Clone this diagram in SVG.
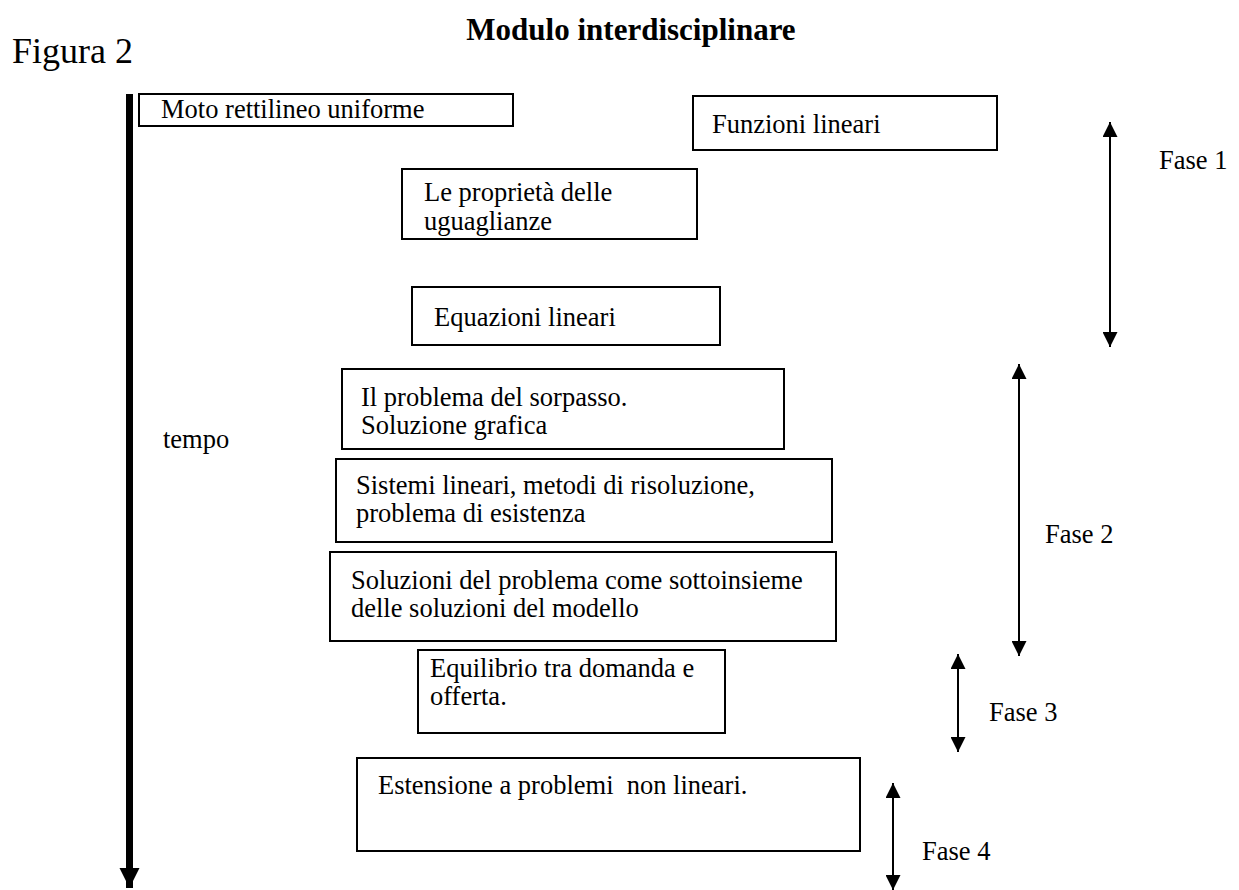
<svg xmlns="http://www.w3.org/2000/svg" width="1239" height="890" viewBox="0 0 1239 890">
<defs>
<style>
.box{fill:#fff;stroke:#000;stroke-width:2}
.t{font-family:"Liberation Serif","Times New Roman",serif;font-size:26.5px;fill:#000}
.ph{stroke:#000;stroke-width:2;fill:none}
</style>
<marker id="ah" viewBox="0 0 10 10" refX="10" refY="5" markerWidth="15" markerHeight="15" markerUnits="userSpaceOnUse" orient="auto-start-reverse">
<path d="M0,0 L10,5 L0,10 Z" fill="#000"/>
</marker>
<marker id="ahb" viewBox="0 0 10 10" refX="10" refY="5" markerWidth="20" markerHeight="21" markerUnits="userSpaceOnUse" orient="auto">
<path d="M0,0 L10,5 L0,10 Z" fill="#000"/>
</marker>
</defs>
<rect width="1239" height="890" fill="#fff"/>
<text class="t" x="631" y="40" text-anchor="middle" font-weight="bold" style="font-size:31px">Modulo interdisciplinare</text>
<text class="t" x="12" y="63" style="font-size:36px">Figura 2</text>
<text class="t" x="163" y="448">tempo</text>
<g id="connectors">
<line x1="129.5" y1="94" x2="129.5" y2="888" stroke="#000" stroke-width="7" marker-end="url(#ahb)"/>
<line class="ph" x1="1110" y1="122" x2="1110" y2="347" marker-start="url(#ah)" marker-end="url(#ah)"/>
<line class="ph" x1="1019" y1="364" x2="1019" y2="656" marker-start="url(#ah)" marker-end="url(#ah)"/>
<line class="ph" x1="958" y1="654" x2="958" y2="752" marker-start="url(#ah)" marker-end="url(#ah)"/>
<line class="ph" x1="893" y1="783" x2="893" y2="890" marker-start="url(#ah)" marker-end="url(#ah)"/>
</g>
<g id="fase1"><text class="t" x="1159" y="169">Fase 1</text></g>
<g id="fase2"><text class="t" x="1045" y="543">Fase 2</text></g>
<g id="fase3"><text class="t" x="989" y="721">Fase 3</text></g>
<g id="fase4"><text class="t" x="922" y="860">Fase 4</text></g>
<g id="n1"><rect class="box" x="139" y="94" width="374" height="32"/><text class="t" x="161" y="118">Moto rettilineo uniforme</text></g>
<g id="n2"><rect class="box" x="693" y="96" width="304" height="54"/><text class="t" x="712" y="133">Funzioni lineari</text></g>
<g id="n3"><rect class="box" x="402" y="169" width="295" height="70"/><text class="t" x="424" y="201">Le proprietà delle</text><text class="t" x="424" y="230">uguaglianze</text></g>
<g id="n4"><rect class="box" x="412" y="287" width="308" height="58"/><text class="t" x="434" y="326">Equazioni lineari</text></g>
<g id="n5"><rect class="box" x="342" y="369" width="442" height="80"/><text class="t" x="361" y="406">Il problema del sorpasso.</text><text class="t" x="361" y="434"> Soluzione grafica</text></g>
<g id="n6"><rect class="box" x="336" y="459" width="496" height="83"/><text class="t" x="356" y="494">Sistemi lineari, metodi di risoluzione,</text><text class="t" x="356" y="522">problema di esistenza</text></g>
<g id="n7"><rect class="box" x="330" y="552" width="506" height="89"/><text class="t" x="351" y="589">Soluzioni del problema come sottoinsieme</text><text class="t" x="351" y="617">delle soluzioni del modello</text></g>
<g id="n8"><rect class="box" x="418" y="650" width="307" height="83"/><text class="t" x="430" y="677">Equilibrio tra domanda e</text><text class="t" x="430" y="705">offerta.</text></g>
<g id="n9"><rect class="box" x="357" y="758" width="503" height="93"/><text class="t" x="378" y="794" xml:space="preserve">Estensione a problemi  non lineari.</text></g>
</svg>
